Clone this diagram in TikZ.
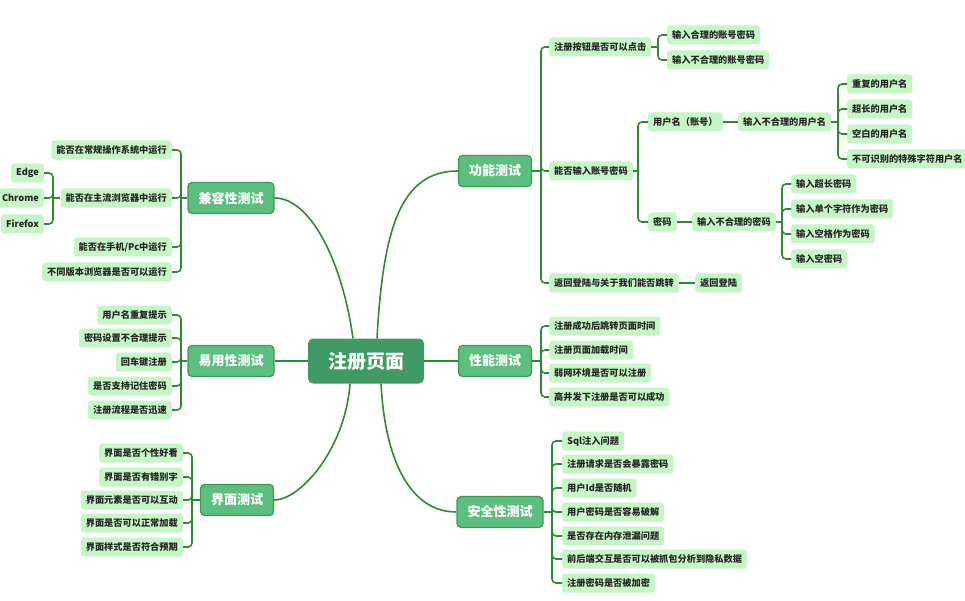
\documentclass[tikz,border=0pt]{standalone}
\usepackage{fontspec}
\setmainfont{Noto Sans CJK SC}
\usetikzlibrary{calc}
\definecolor{leafg}{HTML}{C6F5C6}
\definecolor{maing}{HTML}{5CBF80}
\definecolor{mainb}{HTML}{3A9A50}
\definecolor{rootg}{HTML}{3F9A63}
\definecolor{lineg}{HTML}{2A8C2F}
\definecolor{txt}{HTML}{262626}
\tikzset{
  leaf/.style={rounded corners=3pt, fill=leafg, draw=none, inner xsep=5pt, inner ysep=0pt,
    minimum height=19pt, text=txt, font=\fontsize{9.2}{11}\selectfont\bfseries},
  mainn/.style={rounded corners=4pt, fill=maing, draw=mainb, line width=1.2pt, inner xsep=10.5pt,
    inner ysep=0pt, minimum height=31pt, text=white, font=\fontsize{13}{15}\selectfont\bfseries},
  rootn/.style={rounded corners=5pt, fill=rootg, draw=none, inner xsep=20pt, inner ysep=0pt,
    minimum height=45pt, text=white, font=\fontsize{19}{22}\selectfont\bfseries},
  trunk/.style={draw=lineg, line width=1.6pt},
  br/.style={draw=lineg, line width=1.6pt, rounded corners=4pt},
  R/.style={leaf, anchor=west},
  L/.style={leaf, anchor=east}
}
\begin{document}
\begin{tikzpicture}[x=1pt,y=-1pt]
\useasboundingbox (0,0) rectangle (965,601);
% root and main nodes
\node[rootn] (root) at (366,361) {注册页面};
\node[mainn] (gn) at (495,171) {功能测试};
\node[mainn] (xn) at (495,361) {性能测试};
\node[mainn] (aq) at (500,512) {安全性测试};
\node[mainn] (jr) at (231,198) {兼容性测试};
\node[mainn] (yy) at (231,361) {易用性测试};
\node[mainn] (jm) at (237,500) {界面测试};
% trunk curves
\draw[trunk] ($(root.north)+(-13,0)$) .. controls (342,260) and (310,198) .. (jr.east);
\draw[trunk] ($(root.north)+(11,0)$) .. controls (383,230) and (400,171) .. (gn.west);
\draw[trunk] ($(root.south)+(-16,0)$) .. controls (345,450) and (300,500) .. (jm.east);
\draw[trunk] ($(root.south)+(15,0)$) .. controls (385,460) and (410,512) .. (aq.west);
\draw[trunk] (root.west) -- (yy.east);
\draw[trunk] (root.east) -- (xn.west);

% ===== 功能测试 =====
\coordinate (sgn) at (541,171);
\node[R] (gn1) at (549,47) {注册按钮是否可以点击};
\node[R] (gn2) at (549,171) {能否输入账号密码};
\node[R] (gn3) at (549,283) {返回登陆与关于我们能否跳转};
\draw[trunk] (gn.east) -- (sgn);
\draw[br] (sgn) |- (gn1.west);
\draw[br] (sgn) |- (gn2.west);
\draw[br] (sgn) |- (gn3.west);

\coordinate (sgn1) at (658,47);
\node[R] (gn11) at (667,35) {输入合理的账号密码};
\node[R] (gn12) at (667,60) {输入不合理的账号密码};
\draw[trunk] (gn1.east) -- (sgn1);
\draw[br] (sgn1) |- (gn11.west);
\draw[br] (sgn1) |- (gn12.west);

\coordinate (sgn2) at (638,171);
\node[R] (gn21) at (648,122) {用户名（账号）};
\node[R] (gn22) at (648,222) {密码};
\draw[trunk] (gn2.east) -- (sgn2);
\draw[br] (sgn2) |- (gn21.west);
\draw[br] (sgn2) |- (gn22.west);

\node[R] (gn211) at (738,122) {输入不合理的用户名};
\draw[trunk] (gn21.east) -- (gn211.west);
\coordinate (sgn211) at (838,122);
\node[R] (u1) at (847,84) {重复的用户名};
\node[R] (u2) at (847,109) {超长的用户名};
\node[R] (u3) at (847,134) {空白的用户名};
\node[R] (u4) at (847,159) {不可识别的特殊字符用户名};
\draw[trunk] (gn211.east) -- (sgn211);
\draw[br] (sgn211) |- (u1.west);
\draw[br] (sgn211) |- (u2.west);
\draw[br] (sgn211) |- (u3.west);
\draw[br] (sgn211) |- (u4.west);

\node[R] (gn221) at (692,222) {输入不合理的密码};
\draw[trunk] (gn22.east) -- (gn221.west);
\coordinate (sgn221) at (782,222);
\node[R] (p1) at (791,184) {输入超长密码};
\node[R] (p2) at (791,209) {输入单个字符作为密码};
\node[R] (p3) at (791,234) {输入空格作为密码};
\node[R] (p4) at (791,259) {输入空密码};
\draw[trunk] (gn221.east) -- (sgn221);
\draw[br] (sgn221) |- (p1.west);
\draw[br] (sgn221) |- (p2.west);
\draw[br] (sgn221) |- (p3.west);
\draw[br] (sgn221) |- (p4.west);

\node[R] (gn31) at (695,283) {返回登陆};
\draw[trunk] (gn3.east) -- (gn31.west);

% ===== 性能测试 =====
\coordinate (sxn) at (541,361);
\node[R] (x1) at (549,326) {注册成功后跳转页面时间};
\node[R] (x2) at (549,350) {注册页面加载时间};
\node[R] (x3) at (549,373) {弱网环境是否可以注册};
\node[R] (x4) at (549,397) {高井发下注册是否可以成功};
\draw[trunk] (xn.east) -- (sxn);
\draw[br] (sxn) |- (x1.west);
\draw[br] (sxn) |- (x2.west);
\draw[br] (sxn) |- (x3.west);
\draw[br] (sxn) |- (x4.west);

% ===== 安全性测试 =====
\coordinate (saq) at (552,512);
\node[R] (a1) at (562,441) {Sql注入问题};
\node[R] (a2) at (562,464) {注册请求是否会暴露密码};
\node[R] (a3) at (562,488) {用户Id是否随机};
\node[R] (a4) at (562,512) {用户密码是否容易破解};
\node[R] (a5) at (562,536) {是否存在内存泄漏问题};
\node[R] (a6) at (562,559) {前后端交互是否可以被抓包分析到隐私数据};
\node[R] (a7) at (562,583) {注册密码是否被加密};
\draw[trunk] (aq.east) -- (saq);
\draw[br] (saq) |- (a1.west);
\draw[br] (saq) |- (a2.west);
\draw[br] (saq) |- (a3.west);
\draw[br] (saq) |- (a4.west);
\draw[br] (saq) |- (a5.west);
\draw[br] (saq) |- (a6.west);
\draw[br] (saq) |- (a7.west);

% ===== 兼容性测试 =====
\coordinate (sjr) at (181,198);
\node[L] (j1) at (172,150) {能否在常规操作系统中运行};
\node[L] (j2) at (172,198) {能否在主流浏览器中运行};
\node[L] (j3) at (172,247) {能否在手机/Pc中运行};
\node[L] (j4) at (172,272) {不同版本浏览器是否可以运行};
\draw[trunk] (jr.west) -- (sjr);
\draw[br] (sjr) |- (j1.east);
\draw[br] (sjr) |- (j2.east);
\draw[br] (sjr) |- (j3.east);
\draw[br] (sjr) |- (j4.east);

\coordinate (sj2) at (53,198);
\node[L] (b1) at (44,173) {Edge};
\node[L] (b2) at (44,198) {Chrome};
\node[L] (b3) at (44,224) {Firefox};
\draw[trunk] (j2.west) -- (sj2);
\draw[br] (sj2) |- (b1.east);
\draw[br] (sj2) |- (b2.east);
\draw[br] (sj2) |- (b3.east);

% ===== 易用性测试 =====
\coordinate (syy) at (181,361);
\node[L] (y1) at (172,315) {用户名重复提示};
\node[L] (y2) at (172,338) {密码设置不合理提示};
\node[L] (y3) at (172,362) {回车键注册};
\node[L] (y4) at (172,386) {是否支持记住密码};
\node[L] (y5) at (172,410) {注册流程是否迅速};
\draw[trunk] (yy.west) -- (syy);
\draw[br] (syy) |- (y1.east);
\draw[br] (syy) |- (y2.east);
\draw[br] (syy) |- (y3.east);
\draw[br] (syy) |- (y4.east);
\draw[br] (syy) |- (y5.east);

% ===== 界面测试 =====
\coordinate (sjm) at (192,500);
\node[L] (m1) at (183,453) {界面是否个性好看};
\node[L] (m2) at (183,477) {界面是否有错别字};
\node[L] (m3) at (183,500) {界面元素是否可以互动};
\node[L] (m4) at (183,523) {界面是否可以正常加载};
\node[L] (m5) at (183,547) {界面样式是否符合预期};
\draw[trunk] (jm.west) -- (sjm);
\draw[br] (sjm) |- (m1.east);
\draw[br] (sjm) |- (m2.east);
\draw[br] (sjm) |- (m3.east);
\draw[br] (sjm) |- (m4.east);
\draw[br] (sjm) |- (m5.east);
\end{tikzpicture}
\end{document}
